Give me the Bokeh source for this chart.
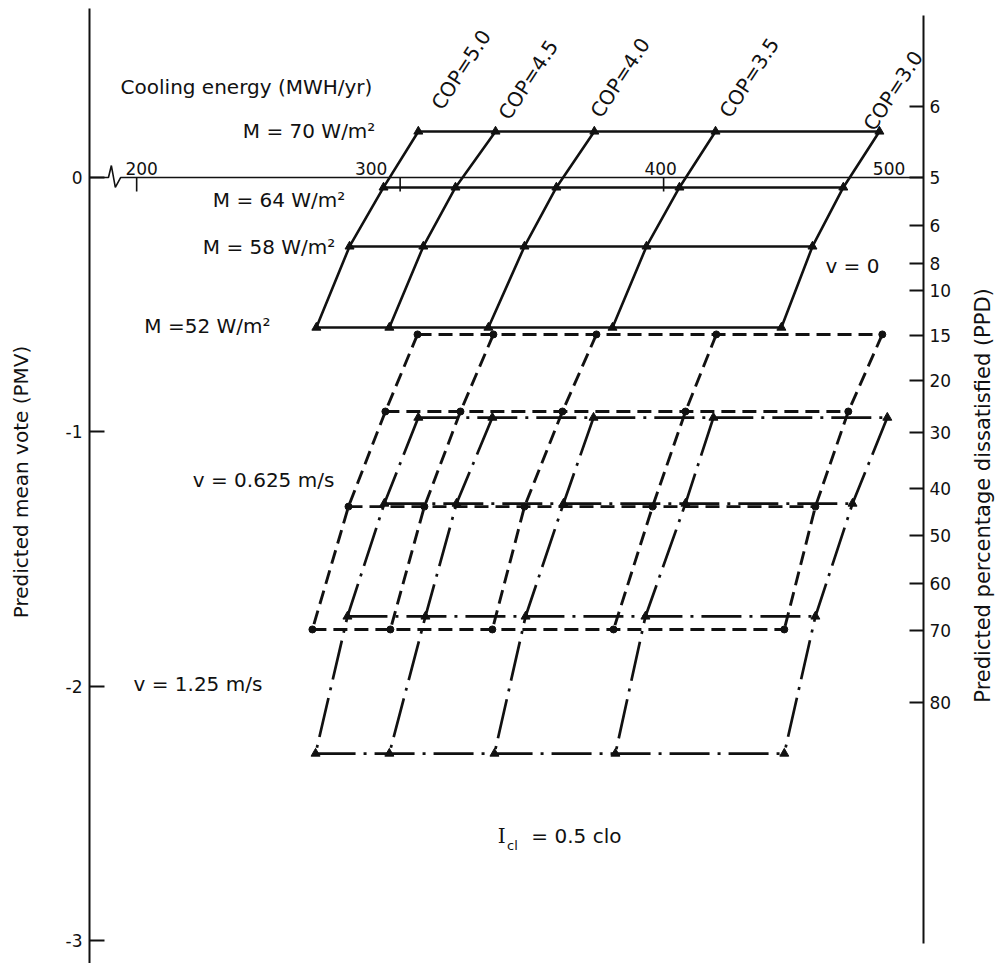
import math
from bokeh.plotting import figure
from bokeh.models import Range1d, LinearAxis, FixedTicker
from bokeh.core.properties import value
from bokeh.embed import file_html
from bokeh.resources import INLINE

# ---------------- data ----------------
cop_values = ["5.0", "4.5", "4.0", "3.5", "3.0"]
metabolic_rates = [70, 64, 58, 52]          # W/m2, one row per value

# cooling energy (MWh/yr): rows = metabolic rate, columns = COP
energy_v0 = [
    [306.9, 336.2, 373.7, 419.7, 481.9],
    [293.7, 321.0, 359.3, 406.0, 468.2],
    [280.8, 308.8, 347.2, 393.5, 456.5],
    [268.2, 295.9, 333.5, 380.6, 444.7],
]
pmv_v0 = [0.181, -0.039, -0.271, -0.590]

energy_v0625 = [
    [306.6, 335.4, 374.5, 420.0, 483.0],
    [294.4, 322.9, 361.6, 408.3, 470.1],
    [280.4, 309.2, 347.2, 395.8, 457.6],
    [266.7, 296.3, 335.0, 381.0, 445.8],
]
pmv_v0625 = [-0.617, -0.920, -1.294, -1.777]

energy_v125 = [
    [306.9, 335.0, 373.4, 418.9, 484.9],
    [294.0, 321.4, 362.0, 408.3, 471.7],
    [280.0, 309.6, 347.6, 393.1, 457.6],
    [267.9, 295.9, 335.8, 381.7, 445.8],
]
pmv_v125 = [-0.944, -1.282, -1.726, -2.265]

pmv_ticks = [0, -1, -2, -3]
ppd_labels = ["6", "5", "6", "8", "10", "15", "20", "30", "40", "50", "60", "70", "80"]
ppd_pmv = [0.279, 0.0, -0.189, -0.338, -0.444, -0.621, -0.798, -1.003,
           -1.223, -1.407, -1.596, -1.781, -2.064]
energy_ticks = [200, 300, 400, 500]

# ---------------- style ----------------
INK = "#111111"
FONT = "DejaVu Sans"
X0, X1 = 182.1, 529.0          # plotting window in MWh/yr
Y0, Y1 = -3.0905, 0.696        # plotting window in PMV
X_PPD = 498.6                  # where the PPD scale stands

p = figure(frame_width=914, frame_height=963,
           x_range=Range1d(X0, X1), y_range=Range1d(Y0, Y1),
           x_axis_type=None, y_axis_type=None,
           output_backend="svg", toolbar_location=None,
           min_border_left=89, min_border_right=0,
           min_border_top=0, min_border_bottom=0,
           background_fill_color="white", border_fill_color="white",
           outline_line_color=None)


def style_axis(ax):
    ax.axis_line_color = INK
    ax.axis_line_width = 2
    ax.major_tick_line_color = INK
    ax.major_tick_line_width = 2
    ax.major_tick_in = 15
    ax.major_tick_out = 0
    ax.minor_tick_line_color = None
    ax.major_label_text_font = FONT
    ax.major_label_text_font_size = "17px"
    ax.major_label_text_color = INK
    ax.axis_label_text_font = FONT
    ax.axis_label_text_font_style = "normal"
    ax.axis_label_text_color = INK


# PMV axis (left)
left_ax = LinearAxis(ticker=FixedTicker(ticks=pmv_ticks), bounds=(Y0, 0.665),
                     major_label_overrides={t: str(t) for t in pmv_ticks},
                     axis_label="Predicted mean vote (PMV)")
style_axis(left_ax)
left_ax.major_label_standoff = 7
left_ax.axis_label_text_font_size = "20px"
left_ax.axis_label_standoff = 30
p.add_layout(left_ax, "left")

# PPD axis, standing at the end of the energy scale
right_ax = LinearAxis(ticker=FixedTicker(ticks=ppd_pmv), bounds=(-3.012, 0.637),
                      fixed_location=X_PPD,
                      major_label_overrides={v: s for v, s in zip(ppd_pmv, ppd_labels)})
style_axis(right_ax)
right_ax.major_tick_in = 14
right_ax.major_label_standoff = 6
p.add_layout(right_ax, "right")

# PPD axis title, reading upwards
p.text(x=[521.4], y=[-1.25], text=["Predicted percentage dissatisfied (PPD)"],
       angle=math.pi / 2, text_align="center", text_baseline="middle",
       text_font=value(FONT), text_font_size="21px", text_color=INK)

# cooling energy scale drawn along PMV = 0, with a break near the left axis
p.line([X0, 189.3, 190.4, 191.9, 193.9, X_PPD], [0, 0, 0.047, -0.039, 0, 0],
       line_color=INK, line_width=1.6)
tick_E = [t for t in energy_ticks if t <= X_PPD]
p.segment(x0=tick_E, y0=[0] * len(tick_E), x1=tick_E, y1=[-0.055] * len(tick_E),
          line_color=INK, line_width=1.6)
p.text(x=energy_ticks, y=[0] * len(energy_ticks), text=[str(t) for t in energy_ticks],
       x_offset=[5, -29, -3, -38], y_offset=-9,
       text_align="center", text_baseline="alphabetic",
       text_font=value(FONT), text_font_size="17px", text_color=INK)


def draw_grid(energy, pmv, dash, width, marker, msize):
    n_rows, n_cols = len(pmv), len(cop_values)
    xs = [list(row) for row in energy]
    ys = [[pmv[i]] * n_cols for i in range(n_rows)]
    xs += [[energy[i][j] for i in range(n_rows)] for j in range(n_cols)]
    ys += [list(pmv) for _ in range(n_cols)]
    p.multi_line(xs, ys, line_color=INK, line_width=width, line_dash=dash,
                 line_join="round")
    px = [e for row in energy for e in row]
    py = [pmv[i] for i in range(n_rows) for _ in range(n_cols)]
    p.scatter(px, py, marker=marker, size=msize, fill_color=INK, line_color=INK)


draw_grid(energy_v0, pmv_v0, "solid", 2.6, "triangle", 9)
draw_grid(energy_v0625, pmv_v0625, "14 7", 2.9, "circle", 7)
draw_grid(energy_v125, pmv_v125, "40 8 3 8", 2.7, "triangle", 9)

# COP labels at the upper end of each COP line
p.text(x=energy_v0[0], y=[pmv_v0[0]] * len(cop_values),
       text=["COP=" + c for c in cop_values],
       x_offset=[18, 8, 1, 9, -11], y_offset=[-24, -14, -16, -16, -3],
       angle=0.99, text_align="left", text_baseline="alphabetic",
       text_font=value(FONT), text_font_size="20px", text_color=INK)


def note(x, y, s, size="20px", align="left", font=FONT, baseline="middle"):
    p.text(x=[x], y=[y], text=[s], text_align=align, text_baseline=baseline,
           text_font=value(font), text_font_size=size, text_color=INK)


note(193.9, 0.354, "Cooling energy  (MWH/yr)")
m_label_pos = [(290.6, 0.181), (279.2, -0.0865), (275.4, -0.275), (250.8, -0.582)]
m_label_txt = ["M = 70 W/m\u00b2", "M = 64 W/m\u00b2", "M = 58 W/m\u00b2", "M =52 W/m\u00b2"]
for (lx, ly), s in zip(m_label_pos, m_label_txt):
    note(lx, ly, s, align="right")

note(461.4, -0.346, "v = 0")
note(221.3, -1.191, "v = 0.625 m/s")
note(198.8, -1.990, "v = 1.25 m/s")

note(337.0, -2.591, "I", font="DejaVu Serif")
note(340.6, -2.625, "cl", size="13px")
note(349.8, -2.591, "= 0.5 clo")

open("out.html", "w").write(file_html(p, INLINE))
